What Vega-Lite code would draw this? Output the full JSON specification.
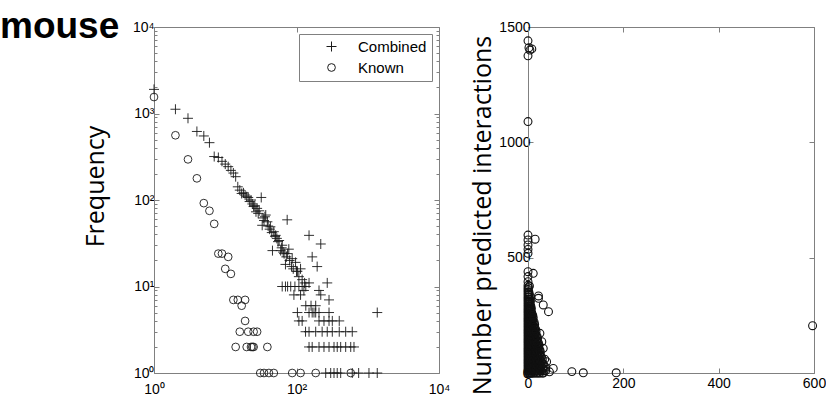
{
"$schema":"https://vega.github.io/schema/vega-lite/v6.json",
"padding":{"left":0,"top":8,"right":0,"bottom":0},
"background":"white",
"title":{"text":"mouse","anchor":"start","frame":"bounds","font":"Liberation Sans","fontSize":37,"fontWeight":"bold","color":"#000","baseline":"alphabetic","offset":-39,"dy":16,"dx":-83},
"resolve":{"scale":{"shape":"independent","size":"independent"},"legend":{"shape":"independent","size":"independent"}},
"datasets":{
"left":[
{"s":"Combined","d":1,"f":1900},{"s":"Combined","d":2,"f":1120},{"s":"Combined","d":3,"f":880},{"s":"Combined","d":4,"f":620},{"s":"Combined","d":5,"f":550},{"s":"Combined","d":6,"f":460},{"s":"Combined","d":7,"f":318},{"s":"Combined","d":8,"f":310},{"s":"Combined","d":9,"f":280},{"s":"Combined","d":10,"f":260},{"s":"Combined","d":11,"f":243},{"s":"Combined","d":12,"f":220},{"s":"Combined","d":13,"f":205},{"s":"Combined","d":14,"f":186},{"s":"Combined","d":15,"f":142},{"s":"Combined","d":16,"f":130},{"s":"Combined","d":17,"f":119},{"s":"Combined","d":18,"f":121},{"s":"Combined","d":19,"f":114},{"s":"Combined","d":20,"f":109},{"s":"Combined","d":21,"f":107},{"s":"Combined","d":22,"f":96},{"s":"Combined","d":23,"f":100},{"s":"Combined","d":24,"f":90},{"s":"Combined","d":25,"f":84},{"s":"Combined","d":26,"f":86},{"s":"Combined","d":27,"f":73},{"s":"Combined","d":28,"f":80},{"s":"Combined","d":29,"f":70},{"s":"Combined","d":30,"f":75},{"s":"Combined","d":32,"f":107},{"s":"Combined","d":33,"f":51},{"s":"Combined","d":34,"f":62},{"s":"Combined","d":35,"f":58},{"s":"Combined","d":36,"f":64},{"s":"Combined","d":37,"f":67},{"s":"Combined","d":39,"f":56},{"s":"Combined","d":40,"f":50},{"s":"Combined","d":42,"f":46},{"s":"Combined","d":43,"f":49},{"s":"Combined","d":45,"f":42},{"s":"Combined","d":46,"f":26},{"s":"Combined","d":48,"f":43},{"s":"Combined","d":50,"f":38},{"s":"Combined","d":51,"f":39},{"s":"Combined","d":53,"f":36},{"s":"Combined","d":55,"f":33},{"s":"Combined","d":57,"f":34},{"s":"Combined","d":60,"f":26},{"s":"Combined","d":62,"f":28},{"s":"Combined","d":63,"f":30},{"s":"Combined","d":65,"f":25},{"s":"Combined","d":67,"f":24},{"s":"Combined","d":70,"f":18},{"s":"Combined","d":72,"f":22},{"s":"Combined","d":74,"f":59},{"s":"Combined","d":75,"f":24},{"s":"Combined","d":78,"f":27},{"s":"Combined","d":80,"f":20},{"s":"Combined","d":85,"f":17},{"s":"Combined","d":87,"f":21},{"s":"Combined","d":90,"f":16},{"s":"Combined","d":97,"f":19},{"s":"Combined","d":100,"f":15},{"s":"Combined","d":103,"f":15},{"s":"Combined","d":108,"f":13},{"s":"Combined","d":114,"f":16},{"s":"Combined","d":120,"f":12},{"s":"Combined","d":130,"f":11},{"s":"Combined","d":150,"f":39},{"s":"Combined","d":166,"f":22},{"s":"Combined","d":195,"f":17},{"s":"Combined","d":219,"f":31},{"s":"Combined","d":270,"f":11},{"s":"Combined","d":63,"f":10},{"s":"Combined","d":70,"f":10},{"s":"Combined","d":75,"f":10},{"s":"Combined","d":83,"f":10},{"s":"Combined","d":95,"f":10},{"s":"Combined","d":108,"f":10},{"s":"Combined","d":120,"f":10},{"s":"Combined","d":135,"f":10},{"s":"Combined","d":150,"f":11},{"s":"Combined","d":92,"f":8},{"s":"Combined","d":114,"f":8},{"s":"Combined","d":127,"f":9},{"s":"Combined","d":207,"f":9},{"s":"Combined","d":219,"f":8},{"s":"Combined","d":286,"f":7},{"s":"Combined","d":135,"f":6},{"s":"Combined","d":160,"f":6},{"s":"Combined","d":186,"f":6},{"s":"Combined","d":103,"f":5},{"s":"Combined","d":150,"f":5},{"s":"Combined","d":166,"f":5},{"s":"Combined","d":176,"f":5},{"s":"Combined","d":186,"f":5},{"s":"Combined","d":207,"f":5},{"s":"Combined","d":286,"f":5},{"s":"Combined","d":1360,"f":5},{"s":"Combined","d":108,"f":4},{"s":"Combined","d":120,"f":4},{"s":"Combined","d":207,"f":4},{"s":"Combined","d":243,"f":4},{"s":"Combined","d":286,"f":4},{"s":"Combined","d":318,"f":4},{"s":"Combined","d":398,"f":4},{"s":"Combined","d":134,"f":3},{"s":"Combined","d":150,"f":3},{"s":"Combined","d":186,"f":3},{"s":"Combined","d":229,"f":3},{"s":"Combined","d":270,"f":3},{"s":"Combined","d":318,"f":3},{"s":"Combined","d":398,"f":3},{"s":"Combined","d":490,"f":3},{"s":"Combined","d":606,"f":3},{"s":"Combined","d":150,"f":2},{"s":"Combined","d":166,"f":2},{"s":"Combined","d":207,"f":2},{"s":"Combined","d":243,"f":2},{"s":"Combined","d":286,"f":2},{"s":"Combined","d":336,"f":2},{"s":"Combined","d":373,"f":2},{"s":"Combined","d":417,"f":2},{"s":"Combined","d":490,"f":2},{"s":"Combined","d":577,"f":2},{"s":"Combined","d":641,"f":2},{"s":"Combined","d":257,"f":1},{"s":"Combined","d":302,"f":1},{"s":"Combined","d":336,"f":1},{"s":"Combined","d":373,"f":1},{"s":"Combined","d":417,"f":1},{"s":"Combined","d":606,"f":1},{"s":"Combined","d":745,"f":1},{"s":"Combined","d":1040,"f":1},{"s":"Combined","d":1360,"f":1},
{"s":"Known","d":1,"f":1550},{"s":"Known","d":2,"f":560},{"s":"Known","d":3,"f":295},{"s":"Known","d":4,"f":178},{"s":"Known","d":5,"f":92},{"s":"Known","d":6,"f":75},{"s":"Known","d":7,"f":53},{"s":"Known","d":8,"f":24},{"s":"Known","d":9,"f":24},{"s":"Known","d":11,"f":22},{"s":"Known","d":10,"f":16},{"s":"Known","d":12,"f":14},{"s":"Known","d":13,"f":7},{"s":"Known","d":15,"f":7},{"s":"Known","d":19,"f":7},{"s":"Known","d":17,"f":6},{"s":"Known","d":19,"f":4},{"s":"Known","d":16,"f":3},{"s":"Known","d":21,"f":3},{"s":"Known","d":25,"f":3},{"s":"Known","d":28,"f":3},{"s":"Known","d":14,"f":2},{"s":"Known","d":20,"f":2},{"s":"Known","d":23,"f":2},{"s":"Known","d":24,"f":2},{"s":"Known","d":25,"f":2},{"s":"Known","d":39,"f":2},{"s":"Known","d":31,"f":1},{"s":"Known","d":35,"f":1},{"s":"Known","d":41,"f":1},{"s":"Known","d":48,"f":1},{"s":"Known","d":87,"f":1},{"s":"Known","d":114,"f":1},{"s":"Known","d":186,"f":1},{"s":"Known","d":577,"f":1}
],
"right":[
{"k":0,"p":1440},{"k":2,"p":1410},{"k":8,"p":1405},{"k":4,"p":1400},{"k":0,"p":1375},{"k":0,"p":1090},{"k":0,"p":598},{"k":15,"p":580},{"k":0,"p":577},{"k":0,"p":555},{"k":0,"p":536},{"k":0,"p":519},{"k":0,"p":439},{"k":11,"p":432},{"k":0,"p":418},{"k":0,"p":396},{"k":3,"p":377},{"k":1,"p":352},{"k":22,"p":334},{"k":22,"p":324},{"k":32,"p":295},{"k":43,"p":266},{"k":29,"p":136},{"k":25,"p":172},{"k":32,"p":107},{"k":53,"p":20},{"k":39,"p":49},{"k":45,"p":5},{"k":35,"p":60},{"k":92,"p":6},{"k":116,"p":1},{"k":185,"p":1},{"k":597,"p":205},
{"k":0,"p":0},{"k":0,"p":20},{"k":0,"p":40},{"k":0,"p":60},{"k":0,"p":80},{"k":0,"p":100},{"k":0,"p":120},{"k":0,"p":140},{"k":0,"p":160},{"k":0,"p":180},{"k":0,"p":200},{"k":0,"p":220},{"k":0,"p":240},{"k":0,"p":260},{"k":0,"p":280},{"k":0,"p":300},{"k":0,"p":320},{"k":0,"p":340},{"k":0,"p":360},{"k":0,"p":380},
{"k":0,"p":10},{"k":0,"p":30},{"k":0,"p":50},{"k":0,"p":70},{"k":0,"p":90},{"k":0,"p":110},{"k":0,"p":130},{"k":0,"p":150},{"k":0,"p":170},{"k":0,"p":190},{"k":0,"p":210},{"k":0,"p":230},{"k":0,"p":250},{"k":0,"p":270},{"k":0,"p":290},{"k":0,"p":310},{"k":0,"p":330},{"k":0,"p":350},{"k":0,"p":370},
{"k":1,"p":10},{"k":1,"p":30},{"k":1,"p":50},{"k":1,"p":70},{"k":1,"p":90},{"k":1,"p":110},{"k":1,"p":130},{"k":1,"p":150},{"k":1,"p":170},{"k":1,"p":190},{"k":1,"p":210},{"k":1,"p":230},{"k":1,"p":250},{"k":1,"p":270},{"k":1,"p":290},{"k":1,"p":310},{"k":1,"p":330},{"k":1,"p":370},
{"k":2,"p":10},{"k":2,"p":30},{"k":2,"p":50},{"k":2,"p":70},{"k":2,"p":90},{"k":2,"p":110},{"k":2,"p":130},{"k":2,"p":150},{"k":2,"p":170},{"k":2,"p":190},{"k":2,"p":210},{"k":2,"p":230},{"k":2,"p":250},{"k":2,"p":270},{"k":2,"p":290},{"k":2,"p":310},{"k":2,"p":330},{"k":2,"p":350},
{"k":2,"p":0},{"k":2,"p":20},{"k":2,"p":40},{"k":2,"p":60},{"k":2,"p":80},{"k":2,"p":100},{"k":2,"p":120},{"k":2,"p":140},{"k":2,"p":160},{"k":2,"p":180},{"k":2,"p":200},{"k":2,"p":220},{"k":2,"p":240},{"k":2,"p":260},{"k":2,"p":280},{"k":2,"p":300},{"k":2,"p":320},{"k":2,"p":340},
{"k":3,"p":0},{"k":3,"p":20},{"k":3,"p":40},{"k":3,"p":60},{"k":3,"p":80},{"k":3,"p":100},{"k":3,"p":120},{"k":3,"p":140},{"k":3,"p":160},{"k":3,"p":180},{"k":3,"p":200},{"k":3,"p":220},{"k":3,"p":240},{"k":3,"p":260},{"k":3,"p":280},{"k":3,"p":300},{"k":3,"p":320},{"k":3,"p":340},
{"k":4,"p":0},{"k":4,"p":20},{"k":4,"p":40},{"k":4,"p":60},{"k":4,"p":80},{"k":4,"p":100},{"k":4,"p":120},{"k":4,"p":140},{"k":4,"p":160},{"k":4,"p":180},{"k":4,"p":200},{"k":4,"p":220},{"k":4,"p":240},{"k":4,"p":260},{"k":4,"p":280},{"k":4,"p":300},{"k":4,"p":320},
{"k":4,"p":10},{"k":4,"p":30},{"k":4,"p":50},{"k":4,"p":70},{"k":4,"p":90},{"k":4,"p":110},{"k":4,"p":130},{"k":4,"p":150},{"k":4,"p":170},{"k":4,"p":190},{"k":4,"p":210},{"k":4,"p":230},{"k":4,"p":250},{"k":4,"p":270},{"k":4,"p":290},{"k":4,"p":310},
{"k":5,"p":10},{"k":5,"p":30},{"k":5,"p":50},{"k":5,"p":70},{"k":5,"p":90},{"k":5,"p":110},{"k":5,"p":130},{"k":5,"p":150},{"k":5,"p":170},{"k":5,"p":190},{"k":5,"p":210},{"k":5,"p":230},{"k":5,"p":250},{"k":5,"p":270},{"k":5,"p":290},{"k":5,"p":310},
{"k":6,"p":10},{"k":6,"p":30},{"k":6,"p":50},{"k":6,"p":70},{"k":6,"p":90},{"k":6,"p":110},{"k":6,"p":130},{"k":6,"p":150},{"k":6,"p":170},{"k":6,"p":190},{"k":6,"p":210},{"k":6,"p":230},{"k":6,"p":250},{"k":6,"p":270},{"k":6,"p":290},
{"k":6,"p":0},{"k":6,"p":20},{"k":6,"p":40},{"k":6,"p":60},{"k":6,"p":80},{"k":6,"p":100},{"k":6,"p":120},{"k":6,"p":140},{"k":6,"p":160},{"k":6,"p":180},{"k":6,"p":200},{"k":6,"p":220},{"k":6,"p":240},{"k":6,"p":260},{"k":6,"p":280},
{"k":7,"p":0},{"k":7,"p":20},{"k":7,"p":40},{"k":7,"p":60},{"k":7,"p":80},{"k":7,"p":100},{"k":7,"p":120},{"k":7,"p":140},{"k":7,"p":160},{"k":7,"p":180},{"k":7,"p":200},{"k":7,"p":220},{"k":7,"p":240},{"k":7,"p":260},{"k":7,"p":280},
{"k":8,"p":0},{"k":8,"p":20},{"k":8,"p":40},{"k":8,"p":60},{"k":8,"p":80},{"k":8,"p":100},{"k":8,"p":120},{"k":8,"p":140},{"k":8,"p":160},{"k":8,"p":180},{"k":8,"p":200},{"k":8,"p":220},{"k":8,"p":240},{"k":8,"p":260},
{"k":8,"p":10},{"k":8,"p":30},{"k":8,"p":50},{"k":8,"p":70},{"k":8,"p":90},{"k":8,"p":110},{"k":8,"p":130},{"k":8,"p":150},{"k":8,"p":170},{"k":8,"p":190},{"k":8,"p":210},{"k":8,"p":230},{"k":8,"p":250},
{"k":9,"p":10},{"k":9,"p":30},{"k":9,"p":50},{"k":9,"p":70},{"k":9,"p":90},{"k":9,"p":110},{"k":9,"p":130},{"k":9,"p":150},{"k":9,"p":170},{"k":9,"p":190},{"k":9,"p":210},{"k":9,"p":230},{"k":9,"p":250},
{"k":10,"p":10},{"k":10,"p":30},{"k":10,"p":50},{"k":10,"p":70},{"k":10,"p":90},{"k":10,"p":110},{"k":10,"p":130},{"k":10,"p":150},{"k":10,"p":170},{"k":10,"p":190},{"k":10,"p":210},{"k":10,"p":230},{"k":10,"p":250},
{"k":11,"p":0},{"k":11,"p":20},{"k":11,"p":40},{"k":11,"p":60},{"k":11,"p":80},{"k":11,"p":100},{"k":11,"p":120},{"k":11,"p":140},{"k":11,"p":160},{"k":11,"p":180},{"k":11,"p":200},{"k":11,"p":220},{"k":11,"p":240},
{"k":13,"p":0},{"k":13,"p":20},{"k":13,"p":40},{"k":13,"p":60},{"k":13,"p":80},{"k":13,"p":100},{"k":13,"p":120},{"k":13,"p":140},{"k":13,"p":160},{"k":13,"p":180},{"k":13,"p":200},{"k":13,"p":220},
{"k":14,"p":10},{"k":14,"p":30},{"k":14,"p":50},{"k":14,"p":70},{"k":14,"p":90},{"k":14,"p":110},{"k":14,"p":130},{"k":14,"p":150},{"k":14,"p":170},{"k":14,"p":190},{"k":14,"p":210},
{"k":16,"p":10},{"k":16,"p":30},{"k":16,"p":50},{"k":16,"p":70},{"k":16,"p":90},{"k":16,"p":110},{"k":16,"p":130},{"k":16,"p":150},{"k":16,"p":170},{"k":16,"p":190},
{"k":17,"p":0},{"k":17,"p":20},{"k":17,"p":40},{"k":17,"p":60},{"k":17,"p":80},{"k":17,"p":100},{"k":17,"p":120},{"k":17,"p":140},{"k":17,"p":160},{"k":17,"p":180},
{"k":19,"p":0},{"k":19,"p":20},{"k":19,"p":40},{"k":19,"p":60},{"k":19,"p":80},{"k":19,"p":100},{"k":19,"p":120},{"k":19,"p":140},{"k":19,"p":160},
{"k":20,"p":10},{"k":20,"p":30},{"k":20,"p":50},{"k":20,"p":70},{"k":20,"p":90},{"k":20,"p":110},{"k":20,"p":130},{"k":20,"p":150},
{"k":22,"p":10},{"k":22,"p":30},{"k":22,"p":50},{"k":22,"p":70},{"k":22,"p":90},{"k":22,"p":110},{"k":22,"p":130},
{"k":23,"p":0},{"k":23,"p":20},{"k":23,"p":40},{"k":23,"p":60},{"k":23,"p":80},{"k":23,"p":100},{"k":23,"p":120},
{"k":25,"p":0},{"k":25,"p":20},{"k":25,"p":40},{"k":25,"p":60},{"k":25,"p":80},{"k":25,"p":100},
{"k":26,"p":10},{"k":26,"p":30},{"k":26,"p":50},{"k":26,"p":70},{"k":26,"p":90},
{"k":28,"p":10},{"k":28,"p":30},{"k":28,"p":50},{"k":28,"p":70},
{"k":30,"p":0},{"k":30,"p":20},{"k":30,"p":40},{"k":30,"p":60},
{"k":32,"p":0},{"k":32,"p":20},{"k":32,"p":40},
{"k":34,"p":10},{"k":34,"p":30},
{"k":37,"p":10},{"k":37,"p":25}
]
},
"spacing":20,
"hconcat":[
{
"width":285,"height":346,
"data":{"name":"left"},
"layer":[
{"mark":{"type":"point","filled":false,"strokeWidth":0.9,"opacity":1,"color":"#1a1a1a"},
"encoding":{
"x":{"field":"d","type":"quantitative","scale":{"type":"log","domain":[1,10000],"nice":false},
"axis":{"orient":"bottom","values":[1,100,10000],"labelExpr":"datum.value==1?'10⁰':(datum.value==100?'10²':'10⁴')","tickSize":-5,"labelPadding":14,"title":null,"labelFlush":false,"labelOverlap":false,"labelBound":false}},
"y":{"field":"f","type":"quantitative","scale":{"type":"log","domain":[1,10000],"nice":false},
"axis":{"orient":"left","values":[1,10,100,1000,10000],"labelExpr":"datum.value==1?'10⁰':(datum.value==10?'10¹':(datum.value==100?'10²':(datum.value==1000?'10³':'10⁴')))","tickSize":-5,"labelPadding":5,"title":"Frequency","titleX":-51,"titleY":159,"titleAlign":"center","titleBaseline":"alphabetic","titleAngle":-90,"labelFlush":false,"labelOverlap":false,"labelBound":false}},
"shape":{"field":"s","type":"nominal","scale":{"domain":["Combined","Known"],"range":["M-1,0L1,0M0,-1L0,1","circle"]},
"legend":{"title":null,"orient":"top-right","offset":7,"fillColor":"white","strokeColor":"#808080","padding":5,"labelFont":"Liberation Sans","labelFontSize":15,"symbolStrokeWidth":1,"symbolStrokeColor":"#1a1a1a","labelOffset":19,"symbolOffset":20,"rowPadding":5}},
"size":{"field":"s","type":"nominal","scale":{"domain":["Combined","Known"],"range":[100,60]},
"legend":{"title":null,"orient":"top-right","offset":7,"fillColor":"white","strokeColor":"#808080","padding":5,"labelFont":"Liberation Sans","labelFontSize":15,"symbolStrokeWidth":1,"symbolStrokeColor":"#1a1a1a","labelOffset":19,"symbolOffset":20,"rowPadding":5}}
}},
{"mark":{"type":"point","opacity":0},
"encoding":{
"x":{"field":"d","type":"quantitative","scale":{"type":"log","domain":[1,10000],"nice":false},"axis":{"orient":"top","values":[1,100,10000],"labels":false,"tickSize":-5,"title":null}},
"y":{"field":"f","type":"quantitative","scale":{"type":"log","domain":[1,10000],"nice":false},"axis":{"orient":"right","values":[1,10,100,1000,10000],"labels":false,"tickSize":-5,"title":null}}
}},
{"mark":{"type":"point","opacity":0},
"encoding":{
"x":{"field":"d","type":"quantitative","scale":{"type":"log","domain":[1,10000],"nice":false},"axis":null},
"y":{"field":"f","type":"quantitative","scale":{"type":"log","domain":[1,10000],"nice":false},"axis":{"orient":"left","values":[2,3,4,5,6,7,8,9,20,30,40,50,60,70,80,90,200,300,400,500,600,700,800,900,2000,3000,4000,5000,6000,7000,8000,9000],"labels":false,"domain":false,"tickSize":-3,"title":null}}
}},
{"mark":{"type":"point","opacity":0},
"encoding":{
"x":{"field":"d","type":"quantitative","scale":{"type":"log","domain":[1,10000],"nice":false},"axis":null},
"y":{"field":"f","type":"quantitative","scale":{"type":"log","domain":[1,10000],"nice":false},"axis":{"orient":"right","values":[2,3,4,5,6,7,8,9,20,30,40,50,60,70,80,90,200,300,400,500,600,700,800,900,2000,3000,4000,5000,6000,7000,8000,9000],"labels":false,"domain":false,"tickSize":-3,"title":null}}
}}
],
"resolve":{"scale":{"x":"independent","y":"independent"}}
},
{
"width":286,"height":346,
"data":{"name":"right"},
"layer":[
{"mark":{"type":"point","shape":"circle","filled":false,"size":62,"strokeWidth":1.1,"opacity":1,"color":"#111111"},
"encoding":{
"x":{"field":"k","type":"quantitative","scale":{"domain":[0,600],"nice":false},
"axis":{"orient":"bottom","values":[0,200,400,600],"format":"d","tickSize":-5,"labelPadding":8,"title":null,"labelFlush":false,"labelOverlap":false,"labelBound":false}},
"y":{"field":"p","type":"quantitative","scale":{"domain":[0,1500],"nice":false},
"axis":{"orient":"left","values":[0,500,1000,1500],"format":"d","tickSize":-5,"labelPadding":3,"title":"Number predicted interactions","titleX":-38,"titleY":188,"titleAlign":"center","titleBaseline":"alphabetic","titleAngle":-90,"labelFlush":false,"labelOverlap":false,"labelBound":false}}
}},
{"mark":{"type":"point","opacity":0},
"encoding":{
"x":{"field":"k","type":"quantitative","scale":{"domain":[0,600],"nice":false},"axis":{"orient":"top","values":[0,200,400,600],"labels":false,"tickSize":-5,"title":null}},
"y":{"field":"p","type":"quantitative","scale":{"domain":[0,1500],"nice":false},"axis":{"orient":"right","values":[0,500,1000,1500],"labels":false,"tickSize":-5,"title":null}}
}}
],
"resolve":{"scale":{"x":"independent","y":"independent"}}
}
],
"config":{
"view":{"stroke":null},
"axis":{"domainColor":"#808080","tickColor":"#808080","labelColor":"#000","labelFont":"Liberation Sans","labelFontSize":14,"grid":false,"titleFont":"Open Sans","titleFontSize":25,"titleFontWeight":"normal","titleColor":"#000","domainWidth":1,"tickWidth":1}
}
}
